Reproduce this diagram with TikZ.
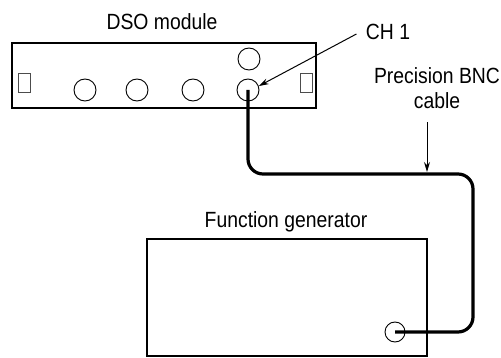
\documentclass[tikz,border=0pt]{standalone}
\usepackage{fontspec}
\setmainfont{Liberation Sans}[FakeStretch=0.88]
\usetikzlibrary{positioning,arrows.meta}

\begin{document}
\begin{tikzpicture}[x=1pt,y=-1pt,font=\fontsize{22}{25}\selectfont,
  box/.style={draw,line width=2pt,inner sep=0pt},
  jack/.style={circle,draw,line width=0.9pt,minimum size=22pt,inner sep=0pt},
  slot/.style={draw=black!70,line width=0.9pt,minimum width=12pt,minimum height=19pt,inner sep=0pt},
  pointer/.style={-{Stealth[length=10pt,width=6pt]},line width=1pt},
  cable/.style={line width=3.2pt,rounded corners=15pt}]
\useasboundingbox (0,0) rectangle (501,358);
% DSO module
\node[box,minimum width=304pt,minimum height=65pt] (dso) at (164,75.5) {};
\node (dsolabel) at (162,22) {DSO module};
\node[slot] (slotl) at (24,82.5) {};
\node[slot] (slotr) at (306,82.5) {};
\foreach \x [count=\i] in {85,137,193}{\node[jack] (in\i) at (\x,90) {};}
\node[jack] (ch1) at (248,90) {};
\node[jack] (ext) at (249,59) {};
\node (chlabel) at (388,32) {CH 1};
\draw[pointer] (chlabel.west) ++(-6,2) -- (ch1.20);
% function generator
\node[box,minimum width=280pt,minimum height=117pt] (fg) at (287,297.5) {};
\node (fglabel) at (286,222) {Function generator};
\node[jack,minimum size=20pt] (fgout) at (395,332) {};
% cable between the two
\coordinate (bend) at (473,174);
\coordinate (tap) at (427,172);
\draw[cable] (ch1.center) |- (bend) |- (fgout.center);
\node[align=center] (bnc) at (437,88) {Precision BNC\\cable};
\draw[pointer] (bnc.south -| tap) ++(0,10) -- (tap);
\end{tikzpicture}
\end{document}
